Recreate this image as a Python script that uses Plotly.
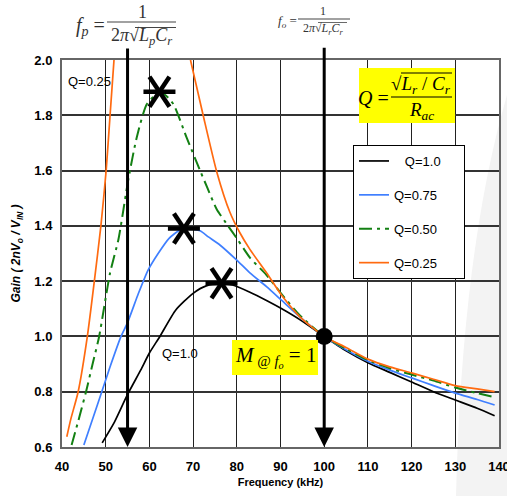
import plotly.graph_objects as go

# ---------------- data ----------------
freq_q100 = [49.2, 52, 55, 58, 60, 62.4, 66, 70, 73, 76.5, 79, 83, 86.8, 90.3, 94.5, 100, 105, 110, 115, 120, 125, 130, 135, 139]
gain_q100 = [0.615, 0.69, 0.79, 0.878, 0.94, 1.0, 1.095, 1.156, 1.183, 1.19, 1.186, 1.16, 1.13, 1.10, 1.06, 1.0, 0.948, 0.905, 0.87, 0.835, 0.80, 0.77, 0.74, 0.713]

freq_q075 = [45.0, 47.2, 49.1, 51.0, 53.5, 55.0, 57.5, 59.7, 62.0, 64.5, 67, 69, 71.6, 73.5, 76.2, 80, 83, 86.8, 90.3, 94.5, 100, 105, 110, 115, 120, 125, 130, 135, 139]
gain_q075 = [0.607, 0.71, 0.80, 0.89, 1.0, 1.05, 1.156, 1.24, 1.30, 1.355, 1.385, 1.39, 1.382, 1.36, 1.33, 1.276, 1.23, 1.18, 1.13, 1.07, 1.0, 0.952, 0.91, 0.878, 0.85, 0.822, 0.795, 0.772, 0.752]

freq_q050 = [42.2, 44.0, 45.5, 47.0, 48.5, 51.0, 52.9, 55.2, 57.1, 59.4, 62.0, 63.5, 65.5, 68.5, 71.6, 73.2, 75.4, 78, 80, 83, 86.8, 90.3, 94.5, 100, 105, 110, 115, 120, 125, 130, 135, 139]
gain_q050 = [0.607, 0.71, 0.80, 0.90, 1.0, 1.23, 1.35, 1.57, 1.72, 1.84, 1.88, 1.875, 1.84, 1.72, 1.60, 1.54, 1.46, 1.40, 1.355, 1.285, 1.222, 1.152, 1.075, 1.0, 0.955, 0.915, 0.885, 0.862, 0.84, 0.815, 0.795, 0.78]

freq_q025 = [41.1, 42.0, 43.7, 45.8, 47.4, 48.9, 50.1, 51.0, 51.9, None,
             69.4, 72.3, 75.4, 78.4, 80.7, 83, 86.8, 90.3, 94.5, 100, 105, 110, 115, 120, 125, 130, 135, 139]
gain_q025 = [0.637, 0.70, 0.80, 1.0, 1.2, 1.4, 1.6, 1.8, 2.0, None,
             2.0, 1.80, 1.596, 1.45, 1.375, 1.315, 1.23, 1.148, 1.07, 1.0, 0.96, 0.918, 0.89, 0.868, 0.845, 0.822, 0.81, 0.80]

series_names = ["&nbsp;&nbsp;&nbsp;Q=1.0", "Q=0.75", "Q=0.50", "Q=0.25"]
series_colors = ["#000000", "#3f7fff", "#138013", "#ff6a10"]

peak_freq = [62.3, 67.9, 76.5]
peak_gain = [1.885, 1.39, 1.192]

f_p = 55
f_o = 100
unity_gain = 1.0

x_ticks = [40, 50, 60, 70, 80, 90, 100, 110, 120, 130, 140]
y_ticks = [0.6, 0.8, 1.0, 1.2, 1.4, 1.6, 1.8, 2.0]

# ---------------- layout helpers (pixel -> paper) ----------------
L, R, T, B = 62, 499, 60, 447
def px(x):
    return (x - L) / (R - L)
def py(y):
    return (B - y) / (B - T)

fig = go.Figure()

dashes = ["solid", "solid", "13px,5px,3px,5px", "solid"]
for fx, gy, name, col, d in zip([freq_q100, freq_q075, freq_q050, freq_q025],
                                [gain_q100, gain_q075, gain_q050, gain_q025],
                                series_names, series_colors, dashes):
    fig.add_trace(go.Scatter(x=fx, y=gy, mode="lines", name=name + "&nbsp;&nbsp;&nbsp;&nbsp;&nbsp;", legendgroup=name,
                             line=dict(color=col, width=2 if d != "solid" else 1.7, dash=d,
                                       shape="spline", smoothing=0.6),
                             connectgaps=False))

# resonance dot
fig.add_trace(go.Scatter(x=[f_o], y=[unity_gain], mode="markers", showlegend=False,
                         marker=dict(color="black", size=17), cliponaxis=False))

shapes = []
# faint watermark band on the right
p = lambda x, y: f"{px(x):.4f},{py(y):.4f}"
shapes.append(dict(type="path", xref="paper", yref="paper",
                   path=f"M {p(456, 496)} Q {p(462, 250)} {p(507, 95)} L {p(507, 496)} Z",
                   fillcolor="#f3f3f3", line=dict(width=0), layer="below"))

# star markers (6 arms)
for fx, gy in zip(peak_freq, peak_gain):
    for (x0, y0, x1, y1) in [(-16, 0, 16, 0), (-10, -15, 10, 15), (-10, 15, 10, -15)]:
        shapes.append(dict(type="line", xref="x", yref="y", xsizemode="pixel", ysizemode="pixel",
                           xanchor=fx, yanchor=gy, x0=x0, x1=x1, y0=y0, y1=y1,
                           line=dict(color="black", width=4.5), layer="above"))

def hline(x0, x1, y, color, w):
    shapes.append(dict(type="line", xref="paper", yref="paper", x0=px(x0), x1=px(x1), y0=py(y), y1=py(y),
                       line=dict(color=color, width=w), layer="above"))

# yellow boxes
shapes.append(dict(type="rect", xref="paper", yref="paper", x0=px(359), x1=px(455), y0=py(123), y1=py(68),
                   fillcolor="#ffff00", line=dict(width=0), layer="above"))
shapes.append(dict(type="rect", xref="paper", yref="paper", x0=px(232), x1=px(318), y0=py(375), y1=py(340),
                   fillcolor="#ffff00", line=dict(width=0), layer="above"))
# fraction bars
hline(391, 452, 97, "black", 1.2)
hline(107, 176, 22, "#444", 1.2)
hline(298, 350, 19, "#444", 1.2)
# sqrt overlines
hline(135, 176, 27.5, "#444", 1)
hline(318, 347, 22.5, "#444", 0.8)
hline(401, 452, 73, "black", 1)

serif = "Liberation Serif"
ann = []
# arrows
for fx, top in [(f_p, 2.047), (f_o, 2.05)]:
    ann.append(dict(x=fx, y=0.6, ax=fx, ay=top, xref="x", yref="y", axref="x", ayref="y",
                    text="", showarrow=True, arrowhead=2, arrowsize=1.3, arrowwidth=3, arrowcolor="black"))

def t(x, y, text, size, color="#333", xanchor="center", font=serif):
    ann.append(dict(x=px(x), y=py(y), xref="paper", yref="paper", text=text, showarrow=False,
                    xanchor=xanchor, yanchor="middle", font=dict(family=font, size=size, color=color)))

# f_p formula
t(90, 26, "<i>f<sub>p</sub></i> =", 20)
t(142, 12, "1", 18)
t(141, 37, "2<i>π</i>√<i>L<sub>p</sub>C<sub>r</sub></i>", 18)
# f_o formula
t(287, 21, "<i>f<sub>o</sub></i> =", 13)
t(323, 11, "1", 12)
t(323, 29.5, "2<i>π</i>√<i>L<sub>r</sub>C<sub>r</sub></i>", 12)
# Q formula
t(373, 98, "<i>Q</i> =", 20, color="black")
t(421, 85, "√<i>L<sub>r</sub></i> / <i>C<sub>r</sub></i>", 19, color="black")
t(421, 111, "<i>R<sub>ac</sub></i>", 19, color="black")
# M formula
t(275, 357, "<i>M</i><sub> @ <i>f<sub>o</sub></i></sub> = 1", 21, color="black")
# curve labels
t(66, 81, "Q=0.25", 13, color="black", xanchor="left", font="Liberation Sans")
t(160, 353, "Q=1.0", 13, color="black", xanchor="left", font="Liberation Sans")

fig.update_layout(
    width=507, height=496,
    margin=dict(l=L, r=507 - R, t=T, b=496 - B, autoexpand=False),
    paper_bgcolor="white", plot_bgcolor="rgba(0,0,0,0)",
    font=dict(family="Liberation Sans", color="black"),
    shapes=shapes, annotations=ann,
    showlegend=True,
    legend=dict(x=px(353), y=py(145), xanchor="left", yanchor="top",
                bgcolor="white", bordercolor="black", borderwidth=1,
                font=dict(size=13, family="Liberation Sans"),
                tracegroupgap=14, itemwidth=30),
    xaxis=dict(range=[40, 140], tickvals=x_ticks, showgrid=True, gridcolor="#222", gridwidth=1.2,
               showline=True, linecolor="#666", linewidth=2, mirror=True, zeroline=False,
               ticks="", ticklabeloverflow="allow", ticklabelstandoff=6,
               tickfont=dict(size=13, family="Liberation Sans", weight="bold"),
               title=dict(text="<b>Frequency (kHz)</b>", font=dict(size=11), standoff=6)),
    yaxis=dict(range=[0.6, 2.0], tickvals=y_ticks, tickformat=".1f", showgrid=True, gridcolor="#333",
               gridwidth=1.5, showline=True, linecolor="#666", linewidth=2, mirror=True, zeroline=False,
               ticks="", ticklabelstandoff=5,
               tickfont=dict(size=13, family="Liberation Sans", weight="bold"),
               title=dict(text="<b><i>Gain ( 2nV<sub>o</sub> / V<sub>IN</sub> )</i></b>", font=dict(size=12), standoff=11)),
)

fig.write_html("out.html", config={"displayModeBar": False},
               post_script="document.body.style.margin='0px';")
